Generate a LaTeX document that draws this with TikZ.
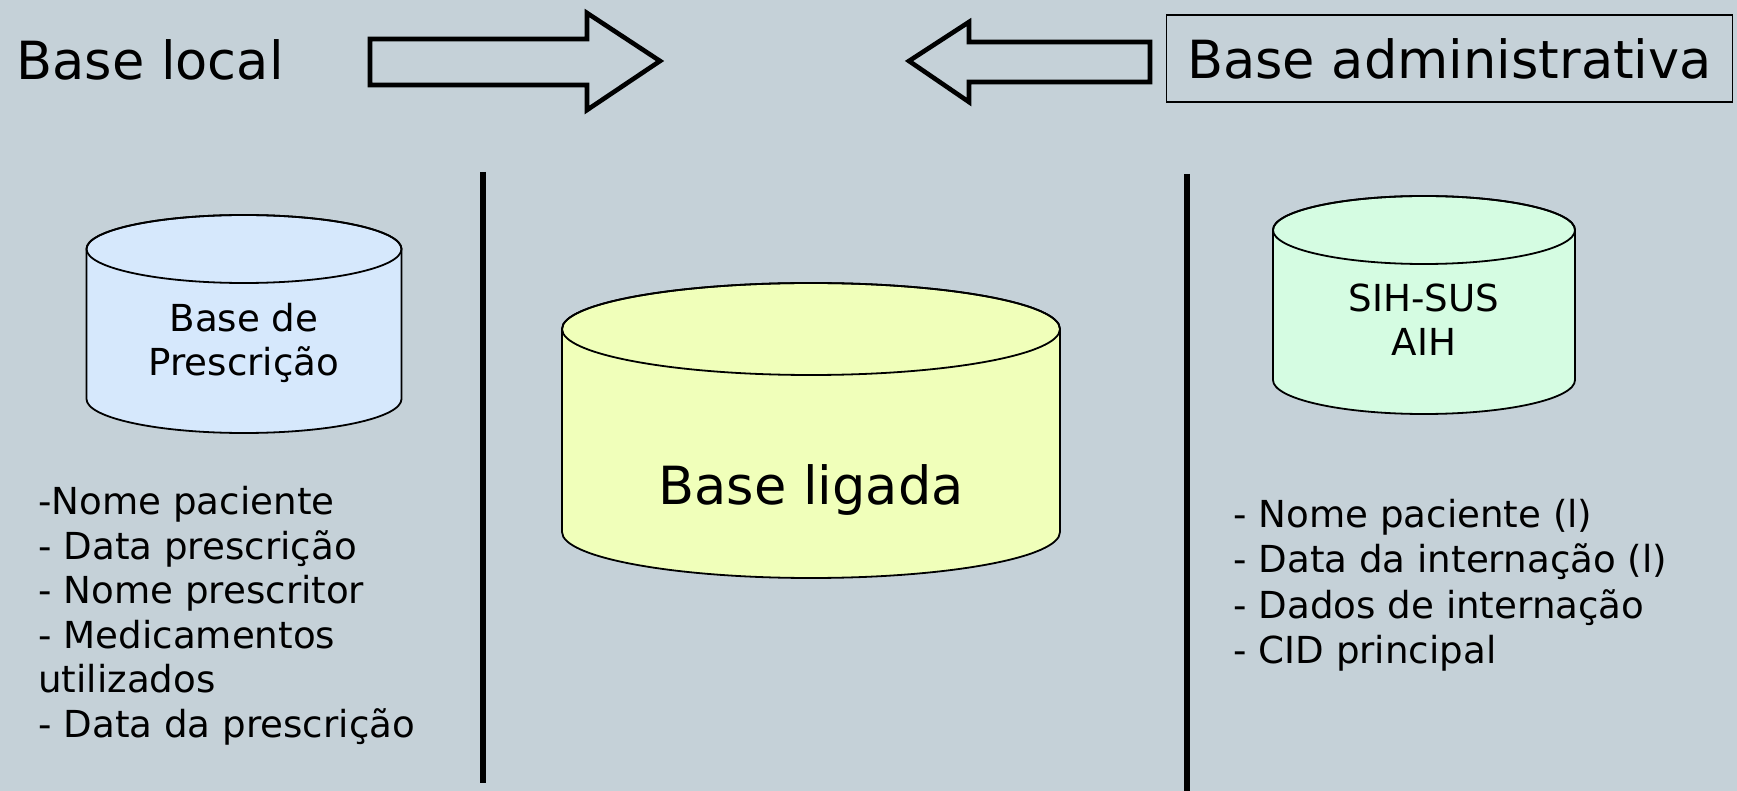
\documentclass[tikz,border=0pt]{standalone}
\usepackage{fontspec}
\setmainfont{DejaVu Sans}

\definecolor{bgslate}{HTML}{C5D1D8}
\definecolor{dbblue}{HTML}{D6E8FC}
\definecolor{dbyellow}{HTML}{F0FFBA}
\definecolor{dbgreen}{HTML}{D5FCE2}

\tikzset{
  fatarrow/.style={draw=black, line width=2.3pt},
  divider/.style={line width=2.8pt},
  drum/.style={draw=black, line width=0.9pt},
  headtxt/.style={font=\fontsize{26.3}{31.5}\selectfont, inner sep=0pt},
  bodytxt/.style={font=\fontsize{18.6}{22}\selectfont, inner sep=0pt},
}

% database drum: centre x, top y, bottom y, x radius, y radius, fill
\newcommand{\dbdrum}[6]{%
  \filldraw[drum, fill=#6] (#1-#4,#2) -- (#1-#4,#3)
    arc[start angle=180, end angle=360, x radius=#4, y radius=#5]
    -- (#1+#4,#2)
    arc[start angle=0, end angle=180, x radius=#4, y radius=#5] -- cycle;
  \draw[drum] (#1,#2) ellipse[x radius=#4, y radius=#5];
}

\begin{document}
\begin{tikzpicture}[x=0.5pt, y=0.5pt]
  \useasboundingbox (0,0) rectangle (1737,-791);
  \fill[bgslate] (0,0) rectangle (1737,-791);

  % titles
  \node[headtxt, anchor=base west] (local) at (16,-80) {Base local};
  \node[headtxt, draw, line width=0.9pt, minimum width=283pt,
    minimum height=43.3pt] (admin) at (1449.5,-58.7) {Base administrativa};

  % block arrows
  \draw[fatarrow] (370,-39) -- (587,-39) -- (587,-13) -- (660,-61)
    -- (587,-110) -- (587,-85) -- (370,-85) -- cycle;
  \draw[fatarrow] (1150,-42) -- (969,-42) -- (969,-22) -- (909,-61)
    -- (969,-102) -- (969,-82) -- (1150,-82) -- cycle;

  % dividers
  \draw[divider] (483,-172) -- (483,-783);
  \draw[divider] (1187,-174) -- (1187,-791);

  % databases
  \dbdrum{244}{-249}{-399}{157.5}{34}{dbblue}
  \dbdrum{811}{-329}{-532}{249}{46}{dbyellow}
  \dbdrum{1424}{-230}{-380}{151}{34}{dbgreen}

  \node[bodytxt, align=center] (presc) at (244,-343) {Base de\\Prescrição};
  \node[headtxt, anchor=base] (ligada) at (811,-505) {Base ligada};
  \node[bodytxt, align=center] (sihsus) at (1424,-320) {SIH-SUS\\AIH};

  % field lists
  \foreach \txt [count=\i from 0] in {-Nome paciente, - Data prescrição,
      - Nome prescritor, - Medicamentos, utilizados, - Data da prescrição}
    \node[bodytxt, anchor=base west] (campol\i) at (38,-515-44.4*\i) {\txt};
  \foreach \txt [count=\i from 0] in {- Nome paciente (l),
      - Data da internação (l), - Dados de internação, - CID principal}
    \node[bodytxt, anchor=base west] (campor\i) at (1233,-528-45*\i) {\txt};
\end{tikzpicture}
\end{document}
